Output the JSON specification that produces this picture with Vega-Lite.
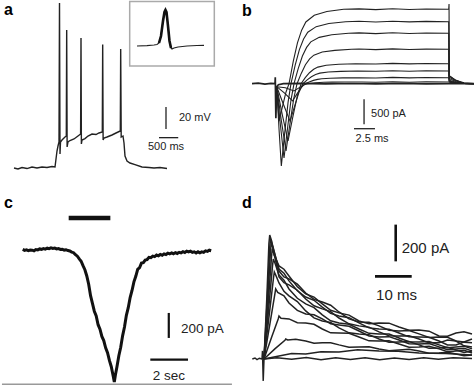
{
"$schema":"https://vega.github.io/schema/vega-lite/v6.json",
"padding":0,
"background":"white",
"spacing":0,
"config":{"view":{"stroke":null},"text":{"font":"Liberation Sans","color":"#222"},"concat":{"spacing":0}},
"vconcat":[
{"hconcat":[
{"width":237,"height":192,
"encoding":{"x":{"field":"t","type":"quantitative","scale":{"domain":[-312,5850],"nice":false,"zero":false},"axis":null},
"y":{"field":"v","type":"quantitative","scale":{"domain":[-92.5,80.3],"nice":false,"zero":false},"axis":null}},
"layer":[
{"data":{"values":[{"t":0,"v":-70},{"t":104,"v":-70.9},{"t":208,"v":-69.6},{"t":338,"v":-70.5},{"t":468,"v":-69.1},{"t":598,"v":-70},{"t":728,"v":-69.1},{"t":858,"v":-69.6},{"t":988,"v":-68.7},{"t":1066,"v":-69.1},{"t":1092,"v":-61.9},{"t":1118,"v":-54.7},{"t":1144,"v":-50.2},{"t":1170,"v":-46.6},{"t":1183,"v":78.5},{"t":1196,"v":-57.4},{"t":1209,"v":-46.6},{"t":1248,"v":-44.8},{"t":1326,"v":-42.1},{"t":1360,"v":-41.2},{"t":1370,"v":54.2},{"t":1381,"v":-51.1},{"t":1404,"v":-46.6},{"t":1456,"v":-45.3},{"t":1560,"v":-43.9},{"t":1664,"v":-41.2},{"t":1732,"v":-39.4},{"t":1742,"v":47},{"t":1752,"v":-48.4},{"t":1768,"v":-44.8},{"t":1846,"v":-43.5},{"t":1924,"v":-41.2},{"t":2028,"v":-39.4},{"t":2132,"v":-39.9},{"t":2210,"v":-38.5},{"t":2296,"v":-37.6},{"t":2306,"v":41.2},{"t":2317,"v":-44.8},{"t":2340,"v":-43},{"t":2418,"v":-42.1},{"t":2548,"v":-40.3},{"t":2652,"v":-38.5},{"t":2764,"v":-36.7},{"t":2774,"v":37.1},{"t":2787,"v":-42.1},{"t":2834,"v":-41.2},{"t":2860,"v":-47.5},{"t":2886,"v":-59.2},{"t":2938,"v":-63.7},{"t":3016,"v":-65.5},{"t":3146,"v":-66.9},{"t":3328,"v":-69.1},{"t":3510,"v":-69.6},{"t":3640,"v":-70},{"t":3796,"v":-69.6},{"t":3978,"v":-70.5}]},
"mark":{"type":"line","color":"#222","strokeWidth":1.4}},
{"data":{"values":[{"t":3008,"t2":5208,"v":79.85,"v2":21.8}]},
"mark":{"type":"rect","fill":"white","stroke":"#aaa","strokeWidth":1.5},
"encoding":{"x2":{"field":"t2"},"y2":{"field":"v2"}}},
{"data":{"values":[{"t":3198,"v":39.8},{"t":3458,"v":40.1},{"t":3640,"v":40.7},{"t":3718,"v":41.15},{"t":3770,"v":42.5},{"t":3822,"v":48.8},{"t":3874,"v":62.3},{"t":3913,"v":70.4},{"t":3939,"v":72.2},{"t":3965,"v":70.4},{"t":4004,"v":57.8},{"t":4043,"v":44.3},{"t":4082,"v":38},{"t":4108,"v":37.1},{"t":4160,"v":38},{"t":4264,"v":38.9},{"t":4498,"v":39.8},{"t":4758,"v":40.25},{"t":4940,"v":40.4}]},
"mark":{"type":"line","color":"#222","strokeWidth":1.2}},
{"data":{"values":[{"t":3770,"v":42.5},{"t":3822,"v":48.8},{"t":3874,"v":62.3},{"t":3913,"v":70.4},{"t":3939,"v":72.2},{"t":3965,"v":70.4},{"t":4004,"v":57.8},{"t":4043,"v":44.3},{"t":4082,"v":38}]},
"mark":{"type":"line","color":"#111","strokeWidth":2.6}},
{"data":{"values":[{"t":3952,"t2":3952,"v":-35,"v2":-15},{"t":3770,"t2":4270,"v":-42.7,"v2":-42.7}]},
"mark":{"type":"rule","color":"#222","strokeWidth":1.3},
"encoding":{"x2":{"field":"t2"},"y2":{"field":"v2"}}},
{"data":{"values":[{"t":4290,"v":-24.7,"label":"20 mV"}]},
"mark":{"type":"text","align":"left","baseline":"middle","fontSize":11},"encoding":{"text":{"field":"label"}}},
{"data":{"values":[{"t":3952,"v":-51.1,"label":"500 ms"}]},
"mark":{"type":"text","align":"center","baseline":"middle","fontSize":11},"encoding":{"text":{"field":"label"}}},
{"data":{"values":[{"t":-260,"v":68,"label":"a"}]},
"mark":{"type":"text","align":"left","baseline":"alphabetic","fontSize":16,"fontWeight":"bold","color":"#000"},"encoding":{"text":{"field":"label"}}}
]},
{"width":237,"height":192,
"encoding":{"x":{"field":"t","type":"quantitative","scale":{"domain":[-4.29,23.93],"nice":false,"zero":false},"axis":null},
"y":{"field":"v","type":"quantitative","scale":{"domain":[-2186,1654],"nice":false,"zero":false},"axis":null}},
"layer":[
{"data":{"values":[{"t":-2.74,"v":0},{"t":-2.0,"v":12},{"t":-1.2,"v":-8},{"t":-0.5,"v":6},{"t":0,"v":0},{"t":0.03,"v":130},{"t":0.1,"v":-690},{"t":0.2,"v":-60},{"t":0.4,"v":-20},{"t":1,"v":0},{"t":3,"v":5},{"t":6,"v":-4},{"t":9,"v":4},{"t":12,"v":-3},{"t":15,"v":5},{"t":18,"v":-4},{"t":20.7,"v":0},{"t":23.93,"v":0}]},
"mark":{"type":"line","color":"#222","strokeWidth":1.7}},
{"data":{"values":[
{"k":1,"t":0.2,"v":-60},{"k":1,"t":0.34,"v":-411},{"k":1,"t":0.48,"v":-748},{"k":1,"t":0.9,"v":-449},{"k":1,"t":1.31,"v":-165},{"k":1,"t":1.67,"v":0},{"k":1,"t":2.17,"v":446},{"k":1,"t":2.67,"v":818},{"k":1,"t":3.17,"v":1071},{"k":1,"t":3.67,"v":1235},{"k":1,"t":4.67,"v":1369},{"k":1,"t":6.17,"v":1443},{"k":1,"t":8.17,"v":1488},{"k":1,"t":10,"v":1496},{"k":1,"t":12,"v":1482},{"k":1,"t":14,"v":1498},{"k":1,"t":16,"v":1484},{"k":1,"t":18,"v":1494},{"k":1,"t":20.68,"v":1488},{"k":1,"t":20.72,"v":1594},{"k":1,"t":20.75,"v":160},{"k":1,"t":21.5,"v":70},{"k":1,"t":22.5,"v":20},{"k":1,"t":23.93,"v":0},
{"k":2,"t":0.2,"v":-60},{"k":2,"t":0.475,"v":-905},{"k":2,"t":0.75,"v":-1646},{"k":2,"t":1.15,"v":-988},{"k":2,"t":1.56,"v":-362},{"k":2,"t":1.9,"v":0},{"k":2,"t":2.4,"v":372},{"k":2,"t":2.9,"v":682},{"k":2,"t":3.4,"v":893},{"k":2,"t":3.9,"v":1029},{"k":2,"t":4.9,"v":1141},{"k":2,"t":6.4,"v":1203},{"k":2,"t":8.4,"v":1240},{"k":2,"t":10,"v":1248},{"k":2,"t":12,"v":1234},{"k":2,"t":14,"v":1250},{"k":2,"t":16,"v":1236},{"k":2,"t":18,"v":1246},{"k":2,"t":20.68,"v":1240},{"k":2,"t":20.74,"v":154},{"k":2,"t":21.5,"v":72},{"k":2,"t":22.5,"v":5},{"k":2,"t":23.93,"v":0},
{"k":3,"t":0.2,"v":-60},{"k":3,"t":0.635,"v":-817},{"k":3,"t":1.07,"v":-1486},{"k":3,"t":1.49,"v":-892},{"k":3,"t":1.9,"v":-327},{"k":3,"t":2.26,"v":0},{"k":3,"t":2.76,"v":302},{"k":3,"t":3.26,"v":554},{"k":3,"t":3.76,"v":726},{"k":3,"t":4.26,"v":837},{"k":3,"t":5.26,"v":927},{"k":3,"t":6.76,"v":978},{"k":3,"t":8.76,"v":1008},{"k":3,"t":10,"v":1016},{"k":3,"t":12,"v":1002},{"k":3,"t":14,"v":1018},{"k":3,"t":16,"v":1004},{"k":3,"t":18,"v":1014},{"k":3,"t":20.68,"v":1008},{"k":3,"t":20.74,"v":131},{"k":3,"t":21.5,"v":60},{"k":3,"t":22.5,"v":5},{"k":3,"t":23.93,"v":0},
{"k":4,"t":0.2,"v":-60},{"k":4,"t":0.755,"v":-740},{"k":4,"t":1.31,"v":-1346},{"k":4,"t":1.77,"v":-808},{"k":4,"t":2.23,"v":-296},{"k":4,"t":2.62,"v":0},{"k":4,"t":3.12,"v":206},{"k":4,"t":3.62,"v":378},{"k":4,"t":4.12,"v":495},{"k":4,"t":4.62,"v":571},{"k":4,"t":5.62,"v":633},{"k":4,"t":7.12,"v":667},{"k":4,"t":9.12,"v":688},{"k":4,"t":10,"v":694},{"k":4,"t":12,"v":682},{"k":4,"t":14,"v":696},{"k":4,"t":16,"v":684},{"k":4,"t":18,"v":692},{"k":4,"t":20.68,"v":688},{"k":4,"t":20.74,"v":99},{"k":4,"t":21.5,"v":44},{"k":4,"t":22.5,"v":5},{"k":4,"t":23.93,"v":0},
{"k":5,"t":0.2,"v":-60},{"k":5,"t":0.875,"v":-630},{"k":5,"t":1.55,"v":-1146},{"k":5,"t":2.09,"v":-688},{"k":5,"t":2.64,"v":-252},{"k":5,"t":3.1,"v":0},{"k":5,"t":3.6,"v":120},{"k":5,"t":4.1,"v":220},{"k":5,"t":4.6,"v":288},{"k":5,"t":5.1,"v":332},{"k":5,"t":6.1,"v":368},{"k":5,"t":7.6,"v":388},{"k":5,"t":9.6,"v":400},{"k":5,"t":12,"v":394},{"k":5,"t":14,"v":406},{"k":5,"t":16,"v":396},{"k":5,"t":18,"v":404},{"k":5,"t":20.68,"v":400},{"k":5,"t":20.74,"v":70},{"k":5,"t":21.5,"v":30},{"k":5,"t":22.5,"v":5},{"k":5,"t":23.93,"v":0},
{"k":6,"t":0.2,"v":-60},{"k":6,"t":0.995,"v":-411},{"k":6,"t":1.79,"v":-748},{"k":6,"t":2.33,"v":-449},{"k":6,"t":2.87,"v":-165},{"k":6,"t":3.33,"v":0},{"k":6,"t":3.83,"v":76},{"k":6,"t":4.33,"v":140},{"k":6,"t":4.83,"v":183},{"k":6,"t":5.33,"v":211},{"k":6,"t":6.33,"v":234},{"k":6,"t":7.83,"v":246},{"k":6,"t":9.83,"v":254},{"k":6,"t":12,"v":248},{"k":6,"t":14,"v":260},{"k":6,"t":16,"v":250},{"k":6,"t":18,"v":258},{"k":6,"t":20.68,"v":254},{"k":6,"t":20.74,"v":55},{"k":6,"t":21.5,"v":22},{"k":6,"t":22.5,"v":4},{"k":6,"t":23.93,"v":0},
{"k":7,"t":0.2,"v":-60},{"k":7,"t":1.14,"v":-190},{"k":7,"t":2.08,"v":-346},{"k":7,"t":2.6,"v":-208},{"k":7,"t":3.12,"v":-76},{"k":7,"t":3.57,"v":0},{"k":7,"t":4.07,"v":36},{"k":7,"t":4.57,"v":66},{"k":7,"t":5.07,"v":86},{"k":7,"t":5.57,"v":100},{"k":7,"t":6.57,"v":110},{"k":7,"t":8.07,"v":116},{"k":7,"t":10.07,"v":120},{"k":7,"t":12,"v":114},{"k":7,"t":14,"v":126},{"k":7,"t":16,"v":116},{"k":7,"t":18,"v":124},{"k":7,"t":20.68,"v":120},{"k":7,"t":20.74,"v":42},{"k":7,"t":21.5,"v":16},{"k":7,"t":22.5,"v":3},{"k":7,"t":23.93,"v":0},
{"k":8,"t":0.2,"v":-60},{"k":8,"t":1.23,"v":-80},{"k":8,"t":2.26,"v":-146},{"k":8,"t":2.8,"v":-88},{"k":8,"t":3.35,"v":-32},{"k":8,"t":3.81,"v":0},{"k":8,"t":4.31,"v":10},{"k":8,"t":4.81,"v":19},{"k":8,"t":5.31,"v":24},{"k":8,"t":5.81,"v":28},{"k":8,"t":6.81,"v":31},{"k":8,"t":8.31,"v":33},{"k":8,"t":10.31,"v":34},{"k":8,"t":12,"v":28},{"k":8,"t":14,"v":40},{"k":8,"t":16,"v":30},{"k":8,"t":18,"v":38},{"k":8,"t":20.68,"v":34},{"k":8,"t":20.74,"v":30},{"k":8,"t":21.5,"v":12},{"k":8,"t":22.5,"v":3},{"k":8,"t":23.93,"v":0}
]},
"mark":{"type":"line","color":"#222","strokeWidth":1.1},"encoding":{"detail":{"field":"k","type":"nominal"}}},
{"data":{"values":[{"t":10.6,"t2":10.6,"v":-812,"v2":-312},{"t":9.4,"t2":11.9,"v":-900,"v2":-900}]},
"mark":{"type":"rule","color":"#222","strokeWidth":1.3},
"encoding":{"x2":{"field":"t2"},"y2":{"field":"v2"}}},
{"data":{"values":[{"t":11.43,"v":-612,"label":"500 pA"}]},
"mark":{"type":"text","align":"left","baseline":"middle","fontSize":11},"encoding":{"text":{"field":"label"}}},
{"data":{"values":[{"t":11.55,"v":-1100,"label":"2.5 ms"}]},
"mark":{"type":"text","align":"center","baseline":"middle","fontSize":11},"encoding":{"text":{"field":"label"}}},
{"data":{"values":[{"t":-3.93,"v":1354,"label":"b"}]},
"mark":{"type":"text","align":"left","baseline":"alphabetic","fontSize":16,"fontWeight":"bold","color":"#000"},"encoding":{"text":{"field":"label"}}}
]}
]},
{"hconcat":[
{"width":237,"height":193,
"encoding":{"x":{"field":"t","type":"quantitative","scale":{"domain":[-1.098,11.475],"nice":false,"zero":false},"axis":null},
"y":{"field":"v","type":"quantitative","scale":{"domain":[-1090.4,453.6],"nice":false,"zero":false},"axis":null}},
"layer":[
{"data":{"values":[{"t":0.0,"v":2},{"t":0.1,"v":-5},{"t":0.2,"v":-1},{"t":0.3,"v":-8},{"t":0.4,"v":-3},{"t":0.5,"v":-4},{"t":0.6,"v":-9},{"t":0.7,"v":1},{"t":0.8,"v":-2},{"t":0.9,"v":6},{"t":1.0,"v":3},{"t":1.1,"v":9},{"t":1.2,"v":5},{"t":1.3,"v":12},{"t":1.4,"v":8},{"t":1.5,"v":15},{"t":1.6,"v":10},{"t":1.7,"v":13},{"t":1.8,"v":6},{"t":1.9,"v":9},{"t":2.0,"v":2},{"t":2.1,"v":4},{"t":2.2,"v":-3},{"t":2.3,"v":0},{"t":2.4,"v":-7},{"t":2.5,"v":-10},{"t":2.6,"v":-19},{"t":2.7,"v":-24},{"t":2.8,"v":-40},{"t":2.9,"v":-52},{"t":3.0,"v":-73},{"t":3.1,"v":-92},{"t":3.2,"v":-128},{"t":3.3,"v":-160},{"t":3.4,"v":-210},{"t":3.5,"v":-276},{"t":3.6,"v":-368},{"t":3.7,"v":-430},{"t":3.8,"v":-492},{"t":3.9,"v":-530},{"t":4.0,"v":-600},{"t":4.1,"v":-636},{"t":4.2,"v":-694},{"t":4.3,"v":-727},{"t":4.4,"v":-785},{"t":4.5,"v":-824},{"t":4.6,"v":-886},{"t":4.7,"v":-936},{"t":4.8,"v":-1010},{"t":4.86,"v":-1058},{"t":4.92,"v":-1000},{"t":5.0,"v":-936},{"t":5.1,"v":-848},{"t":5.2,"v":-781},{"t":5.3,"v":-689},{"t":5.4,"v":-619},{"t":5.5,"v":-525},{"t":5.6,"v":-464},{"t":5.7,"v":-383},{"t":5.8,"v":-326},{"t":5.9,"v":-257},{"t":6.0,"v":-213},{"t":6.1,"v":-157},{"t":6.2,"v":-144},{"t":6.3,"v":-107},{"t":6.4,"v":-104},{"t":6.5,"v":-83},{"t":6.6,"v":-79},{"t":6.7,"v":-61},{"t":6.8,"v":-64},{"t":6.9,"v":-51},{"t":7.0,"v":-55},{"t":7.1,"v":-43},{"t":7.2,"v":-49},{"t":7.3,"v":-38},{"t":7.4,"v":-44},{"t":7.5,"v":-33},{"t":7.6,"v":-39},{"t":7.7,"v":-28},{"t":7.8,"v":-34},{"t":7.9,"v":-25},{"t":8.0,"v":-32},{"t":8.1,"v":-23},{"t":8.2,"v":-30},{"t":8.3,"v":-21},{"t":8.4,"v":-26},{"t":8.5,"v":-16},{"t":8.6,"v":-22},{"t":8.7,"v":-11},{"t":8.8,"v":-17},{"t":8.9,"v":-11},{"t":9.0,"v":-22},{"t":9.1,"v":-17},{"t":9.2,"v":-26},{"t":9.3,"v":-17},{"t":9.4,"v":-25},{"t":9.5,"v":-17},{"t":9.6,"v":-21},{"t":9.7,"v":-9},{"t":9.8,"v":-14},{"t":9.9,"v":-4},{"t":10.0,"v":-8}]},
"mark":{"type":"line","color":"#111","strokeWidth":3}},
{"data":{"values":[{"t":2.44,"t2":4.65,"v":254,"v2":254}]},
"mark":{"type":"rule","color":"#111","strokeWidth":4.5},
"encoding":{"x2":{"field":"t2"},"y2":{"field":"v2"}}},
{"data":{"values":[{"t":7.75,"t2":7.75,"v":-706,"v2":-506},{"t":6.77,"t2":8.77,"v":-880,"v2":-880}]},
"mark":{"type":"rule","color":"#111","strokeWidth":2.2},
"encoding":{"x2":{"field":"t2"},"y2":{"field":"v2"}}},
{"data":{"values":[{"t":-1.1,"t2":11.1,"v":-1078,"v2":-1078}]},
"mark":{"type":"rule","color":"#999","strokeWidth":2},
"encoding":{"x2":{"field":"t2"},"y2":{"field":"v2"}}},
{"data":{"values":[{"t":8.4,"v":-634,"label":"200 pA"}]},
"mark":{"type":"text","align":"left","baseline":"middle","fontSize":13.5},"encoding":{"text":{"field":"label"}}},
{"data":{"values":[{"t":7.75,"v":-1008,"label":"2 sec"}]},
"mark":{"type":"text","align":"center","baseline":"middle","fontSize":13.5},"encoding":{"text":{"field":"label"}}},
{"data":{"values":[{"t":-0.99,"v":333.6,"label":"c"}]},
"mark":{"type":"text","align":"left","baseline":"alphabetic","fontSize":16,"fontWeight":"bold","color":"#000"},"encoding":{"text":{"field":"label"}}}
]},
{"width":237,"height":193,
"encoding":{"x":{"field":"t","type":"quantitative","scale":{"domain":[-6.35,58.23],"nice":false,"zero":false},"axis":null},
"y":{"field":"v","type":"quantitative","scale":{"domain":[-148,908],"nice":false,"zero":false},"axis":null}},
"layer":[
{"data":{"values":[
{"k":0,"t":-2.72,"v":0},{"k":0,"t":-2.0,"v":5},{"k":0,"t":-1.44,"v":-4},{"k":0,"t":-0.8,"v":4},{"k":0,"t":-0.08,"v":0},{"k":0,"t":0.05,"v":44},{"k":0,"t":0.25,"v":-120},{"k":0,"t":0.46,"v":0},
{"k":1,"t":0.46,"v":0},{"k":1,"t":1.24,"v":339},{"k":1,"t":1.8,"v":631},{"k":1,"t":2.02,"v":678},{"k":1,"t":2.56,"v":644},{"k":1,"t":3.19,"v":569},{"k":1,"t":4.55,"v":509},{"k":1,"t":5.9,"v":491},{"k":1,"t":7.27,"v":454},{"k":1,"t":9.55,"v":395},{"k":1,"t":11.83,"v":356},{"k":1,"t":14.09,"v":338},{"k":1,"t":16.35,"v":301},{"k":1,"t":18.63,"v":266},{"k":1,"t":20.9,"v":252},{"k":1,"t":23.63,"v":240},{"k":1,"t":26.35,"v":208},{"k":1,"t":29.08,"v":192},{"k":1,"t":31.8,"v":197},{"k":1,"t":34.53,"v":196},{"k":1,"t":37.25,"v":175},{"k":1,"t":39.98,"v":157},{"k":1,"t":42.7,"v":159},{"k":1,"t":45.43,"v":152},{"k":1,"t":48.15,"v":126},{"k":1,"t":50.47,"v":124},{"k":1,"t":52.78,"v":142},{"k":1,"t":54.96,"v":149},{"k":1,"t":57.14,"v":137},
{"k":2,"t":0.46,"v":0},{"k":2,"t":1.35,"v":328},{"k":2,"t":2.02,"v":610},{"k":2,"t":2.23,"v":656},{"k":2,"t":2.78,"v":624},{"k":2,"t":4.55,"v":481},{"k":2,"t":5.9,"v":449},{"k":2,"t":7.27,"v":438},{"k":2,"t":9.55,"v":409},{"k":2,"t":11.83,"v":361},{"k":2,"t":14.09,"v":326},{"k":2,"t":16.35,"v":312},{"k":2,"t":18.63,"v":294},{"k":2,"t":20.9,"v":257},{"k":2,"t":23.63,"v":219},{"k":2,"t":26.35,"v":202},{"k":2,"t":29.08,"v":201},{"k":2,"t":31.8,"v":181},{"k":2,"t":34.53,"v":157},{"k":2,"t":37.25,"v":153},{"k":2,"t":39.98,"v":155},{"k":2,"t":42.7,"v":137},{"k":2,"t":45.43,"v":118},{"k":2,"t":48.15,"v":120},{"k":2,"t":50.47,"v":119},{"k":2,"t":52.78,"v":98},{"k":2,"t":54.96,"v":93},{"k":2,"t":57.14,"v":109},
{"k":3,"t":0.46,"v":0},{"k":3,"t":1.46,"v":317},{"k":3,"t":2.23,"v":590},{"k":3,"t":2.45,"v":635},{"k":3,"t":3.0,"v":603},{"k":3,"t":4.55,"v":492},{"k":3,"t":5.9,"v":469},{"k":3,"t":7.27,"v":427},{"k":3,"t":9.55,"v":373},{"k":3,"t":11.83,"v":339},{"k":3,"t":14.09,"v":321},{"k":3,"t":16.35,"v":284},{"k":3,"t":18.63,"v":249},{"k":3,"t":20.9,"v":235},{"k":3,"t":23.63,"v":226},{"k":3,"t":26.35,"v":197},{"k":3,"t":29.08,"v":170},{"k":3,"t":31.8,"v":164},{"k":3,"t":34.53,"v":163},{"k":3,"t":37.25,"v":142},{"k":3,"t":39.98,"v":121},{"k":3,"t":42.7,"v":120},{"k":3,"t":45.43,"v":119},{"k":3,"t":48.15,"v":98},{"k":3,"t":50.47,"v":77},{"k":3,"t":52.78,"v":77},{"k":3,"t":54.96,"v":92},{"k":3,"t":57.14,"v":88},
{"k":4,"t":0.46,"v":0},{"k":4,"t":1.59,"v":301},{"k":4,"t":2.51,"v":560},{"k":4,"t":2.72,"v":602},{"k":4,"t":3.27,"v":572},{"k":4,"t":4.55,"v":449},{"k":4,"t":5.9,"v":417},{"k":4,"t":7.27,"v":405},{"k":4,"t":9.55,"v":376},{"k":4,"t":11.83,"v":328},{"k":4,"t":14.09,"v":291},{"k":4,"t":16.35,"v":274},{"k":4,"t":18.63,"v":259},{"k":4,"t":20.9,"v":224},{"k":4,"t":23.63,"v":192},{"k":4,"t":26.35,"v":181},{"k":4,"t":29.08,"v":174},{"k":4,"t":31.8,"v":148},{"k":4,"t":34.53,"v":127},{"k":4,"t":37.25,"v":126},{"k":4,"t":39.98,"v":127},{"k":4,"t":42.7,"v":109},{"k":4,"t":45.43,"v":88},{"k":4,"t":48.15,"v":88},{"k":4,"t":50.47,"v":103},{"k":4,"t":52.78,"v":98},{"k":4,"t":54.96,"v":72},{"k":4,"t":57.14,"v":66},
{"k":5,"t":0.46,"v":0},{"k":5,"t":1.73,"v":274},{"k":5,"t":2.78,"v":509},{"k":5,"t":3.0,"v":547},{"k":5,"t":3.54,"v":520},{"k":5,"t":4.55,"v":459},{"k":5,"t":5.9,"v":431},{"k":5,"t":7.27,"v":383},{"k":5,"t":9.55,"v":332},{"k":5,"t":11.83,"v":301},{"k":5,"t":14.09,"v":281},{"k":5,"t":16.35,"v":241},{"k":5,"t":18.63,"v":209},{"k":5,"t":20.9,"v":197},{"k":5,"t":23.63,"v":190},{"k":5,"t":26.35,"v":164},{"k":5,"t":29.08,"v":140},{"k":5,"t":31.8,"v":137},{"k":5,"t":34.53,"v":136},{"k":5,"t":37.25,"v":115},{"k":5,"t":39.98,"v":94},{"k":5,"t":42.7,"v":93},{"k":5,"t":45.43,"v":95},{"k":5,"t":48.15,"v":77},{"k":5,"t":50.47,"v":61},{"k":5,"t":52.78,"v":66},{"k":5,"t":54.96,"v":70},{"k":5,"t":57.14,"v":55},
{"k":6,"t":0.46,"v":0},{"k":6,"t":1.87,"v":238},{"k":6,"t":3.05,"v":443},{"k":6,"t":3.27,"v":476},{"k":6,"t":3.81,"v":452},{"k":6,"t":4.55,"v":416},{"k":6,"t":5.9,"v":370},{"k":6,"t":7.27,"v":345},{"k":6,"t":9.55,"v":314},{"k":6,"t":11.83,"v":263},{"k":6,"t":14.09,"v":225},{"k":6,"t":16.35,"v":208},{"k":6,"t":18.63,"v":199},{"k":6,"t":20.9,"v":170},{"k":6,"t":23.63,"v":143},{"k":6,"t":26.35,"v":137},{"k":6,"t":29.08,"v":133},{"k":6,"t":31.8,"v":109},{"k":6,"t":34.53,"v":91},{"k":6,"t":37.25,"v":93},{"k":6,"t":39.98,"v":95},{"k":6,"t":42.7,"v":77},{"k":6,"t":45.43,"v":58},{"k":6,"t":48.15,"v":60},{"k":6,"t":50.47,"v":64},{"k":6,"t":52.78,"v":49},{"k":6,"t":54.96,"v":36},{"k":6,"t":57.14,"v":44},
{"k":7,"t":0.46,"v":0},{"k":7,"t":2.06,"v":191},{"k":7,"t":3.43,"v":356},{"k":7,"t":3.65,"v":383},{"k":7,"t":4.2,"v":364},{"k":7,"t":5.9,"v":345},{"k":7,"t":7.27,"v":306},{"k":7,"t":9.55,"v":266},{"k":7,"t":11.83,"v":246},{"k":7,"t":14.09,"v":242},{"k":7,"t":16.35,"v":219},{"k":7,"t":18.63,"v":192},{"k":7,"t":20.9,"v":186},{"k":7,"t":23.63,"v":179},{"k":7,"t":26.35,"v":153},{"k":7,"t":29.08,"v":126},{"k":7,"t":31.8,"v":120},{"k":7,"t":34.53,"v":122},{"k":7,"t":37.25,"v":104},{"k":7,"t":39.98,"v":83},{"k":7,"t":42.7,"v":82},{"k":7,"t":45.43,"v":84},{"k":7,"t":48.15,"v":66},{"k":7,"t":50.47,"v":50},{"k":7,"t":52.78,"v":55},{"k":7,"t":54.96,"v":59},{"k":7,"t":57.14,"v":44},
{"k":8,"t":0.46,"v":0},{"k":8,"t":2.51,"v":118},{"k":8,"t":4.33,"v":219},{"k":8,"t":4.55,"v":235},{"k":8,"t":5.1,"v":223},{"k":8,"t":7.27,"v":219},{"k":8,"t":9.55,"v":198},{"k":8,"t":11.83,"v":197},{"k":8,"t":14.09,"v":190},{"k":8,"t":16.35,"v":164},{"k":8,"t":18.63,"v":143},{"k":8,"t":20.9,"v":142},{"k":8,"t":23.63,"v":141},{"k":8,"t":26.35,"v":120},{"k":8,"t":29.08,"v":99},{"k":8,"t":31.8,"v":98},{"k":8,"t":34.53,"v":100},{"k":8,"t":37.25,"v":82},{"k":8,"t":39.98,"v":64},{"k":8,"t":42.7,"v":66},{"k":8,"t":45.43,"v":70},{"k":8,"t":48.15,"v":55},{"k":8,"t":50.47,"v":39},{"k":8,"t":52.78,"v":44},{"k":8,"t":54.96,"v":48},{"k":8,"t":57.14,"v":33},
{"k":9,"t":0.46,"v":0},{"k":9,"t":3.42,"v":55},{"k":9,"t":6.16,"v":102},{"k":9,"t":6.38,"v":109},{"k":9,"t":6.92,"v":104},{"k":9,"t":9.1,"v":108},{"k":9,"t":11.83,"v":98},{"k":9,"t":14.09,"v":86},{"k":9,"t":16.35,"v":88},{"k":9,"t":18.63,"v":89},{"k":9,"t":20.9,"v":77},{"k":9,"t":23.63,"v":64},{"k":9,"t":26.35,"v":66},{"k":9,"t":29.08,"v":67},{"k":9,"t":31.8,"v":55},{"k":9,"t":34.53,"v":45},{"k":9,"t":37.25,"v":49},{"k":9,"t":39.98,"v":53},{"k":9,"t":42.7,"v":44},{"k":9,"t":45.43,"v":31},{"k":9,"t":48.15,"v":33},{"k":9,"t":50.47,"v":37},{"k":9,"t":52.78,"v":27},{"k":9,"t":54.96,"v":17},{"k":9,"t":57.14,"v":22},
{"k":10,"t":0.46,"v":0},{"k":10,"t":2.5,"v":8},{"k":10,"t":4.55,"v":16},{"k":10,"t":8,"v":30},{"k":10,"t":11.83,"v":27},{"k":10,"t":16,"v":40},{"k":10,"t":20.9,"v":38},{"k":10,"t":26,"v":50},{"k":10,"t":31.8,"v":44},{"k":10,"t":37,"v":42},{"k":10,"t":42.7,"v":33},{"k":10,"t":50,"v":30},{"k":10,"t":57.14,"v":22},
{"k":11,"t":0.46,"v":0},{"k":11,"t":4,"v":6},{"k":11,"t":8,"v":-2},{"k":11,"t":12,"v":8},{"k":11,"t":16,"v":-4},{"k":11,"t":20,"v":7},{"k":11,"t":24,"v":-3},{"k":11,"t":28,"v":6},{"k":11,"t":32,"v":-5},{"k":11,"t":36,"v":5},{"k":11,"t":40,"v":-3},{"k":11,"t":44,"v":7},{"k":11,"t":48,"v":-2},{"k":11,"t":52,"v":6},{"k":11,"t":57.14,"v":2}
]},
"mark":{"type":"line","color":"#222","strokeWidth":1.5},"encoding":{"detail":{"field":"k","type":"nominal"}}},
{"data":{"values":[{"t":36.35,"t2":36.35,"v":534,"v2":735},{"t":30.71,"t2":40.71,"v":452,"v2":452}]},
"mark":{"type":"rule","color":"#111","strokeWidth":2.6},
"encoding":{"x2":{"field":"t2"},"y2":{"field":"v2"}}},
{"data":{"values":[{"t":37.98,"v":607,"label":"200 pA"}]},
"mark":{"type":"text","align":"left","baseline":"middle","fontSize":15},"encoding":{"text":{"field":"label"}}},
{"data":{"values":[{"t":36.57,"v":352,"label":"10 ms"}]},
"mark":{"type":"text","align":"center","baseline":"middle","fontSize":15},"encoding":{"text":{"field":"label"}}},
{"data":{"values":[{"t":-5.53,"v":826,"label":"d"}]},
"mark":{"type":"text","align":"left","baseline":"alphabetic","fontSize":16,"fontWeight":"bold","color":"#000"},"encoding":{"text":{"field":"label"}}}
]}
]}
]
}
